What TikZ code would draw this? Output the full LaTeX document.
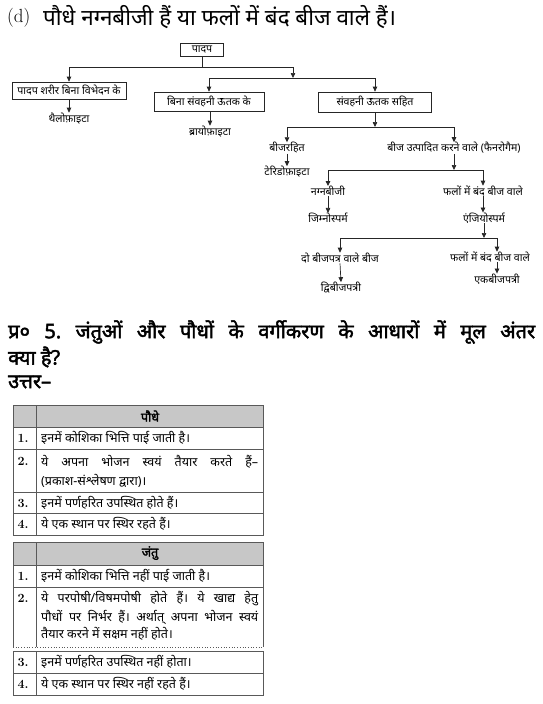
\documentclass[tikz,border=0pt]{standalone}
\usepackage{fontspec}
\newfontfamily\dev[Script=Devanagari]{Noto Sans}
\newfontfamily\devb[Script=Devanagari, FakeBold=2.2]{Noto Sans}
\usetikzlibrary{arrows.meta}
\begin{document}
\frenchspacing
\begin{tikzpicture}[x=1pt,y=-1pt,
  dg/.style={inner sep=0pt, font=\dev\fontsize{10.6}{12}\selectfont},
  box/.style={dg, draw=black!85, line width=0.7pt},
  conn/.style={draw=black!85, line width=0.7pt},
  arr/.style={conn, -{Triangle[length=5pt,width=4.5pt]}},
  tline/.style={draw=black!65, line width=0.7pt},
  ttext/.style={inner sep=0pt, anchor=west, font=\dev\fontsize{12.5}{14}\selectfont},
  tnum/.style={inner sep=0pt, font=\bfseries\fontsize{12.5}{14}\selectfont},
  thead/.style={inner sep=0pt, font=\devb\fontsize{12.5}{14}\selectfont},
  qtext/.style={inner sep=0pt, anchor=west, font=\devb\fontsize{20}{22}\selectfont}
]
\useasboundingbox (0,0) rectangle (543,704);
% title
\node[inner sep=0pt, anchor=west, font=\fontsize{19}{21}\selectfont] (dl) at (7,18) {(d)};
\node[inner sep=0pt, anchor=west, font=\dev\fontsize{22.4}{24}\selectfont] (title) at (43,17) {पौधे नग्नबीजी हैं या फलों में बंद बीज वाले हैं।};

% diagram
\node[box, minimum width=43pt, minimum height=13pt] (padap) at (202,49.5) {पादप};
\node[box, minimum width=114pt, minimum height=17pt] (sharir) at (69,90.5) {पादप शरीर बिना विभेदन के};
\node[box, minimum width=110pt, minimum height=19pt] (bina) at (209,101.5) {बिना संवहनी ऊतक के};
\node[box, minimum width=113pt, minimum height=20pt] (sahit) at (375,102) {संवहनी ऊतक सहित};
\node[dg] (thallo) at (69,118.5) {थैलोफ़ाइटा};
\node[dg] (bryo) at (210,131.5) {ब्रायोफ़ाइटा};
\node[dg] (beejrahit) at (287,148) {बीजरहित};
\node[dg] (terido) at (287,172) {टेरिडोफ़ाइटा};
\node[dg] (beej) at (454,148) {बीज उत्पादित करने वाले (फैनरोगैम)};
\node[dg] (nagna) at (328,191) {नग्नबीजी};
\node[dg] (phal1) at (483,191) {फलों में बंद बीज वाले};
\node[dg] (jimno) at (328,218) {जिम्नोस्पर्म};
\node[dg] (anjio) at (484,218) {एंजियोस्पर्म};
\node[dg] (do) at (340,258) {दो बीजपत्र वाले बीज};
\node[dg] (phal2) at (490,257) {फलों में बंद बीज वाले};
\node[dg] (dvi) at (341,288) {द्विबीजपत्री};
\node[dg] (ek) at (497,279) {एकबीजपत्री};

\coordinate (h1) at (0,67);
\coordinate (j2) at (293,78);
\coordinate (h3) at (0,127);
\coordinate (h4) at (0,170);
\coordinate (h5) at (0,238);

\draw[conn] (padap.south) -- (padap.south |- h1);
\draw[arr] (padap.south |- h1) -| (sharir.north);
\draw[arr] (padap.south |- h1) -| (j2);
\draw[arr] (j2) -| (bina.north);
\draw[arr] (j2) -| (sahit.north);
\draw[arr] (sharir.south) -- (thallo.north);
\draw[arr] (bina.south -| bryo) -- (bryo.north);
\draw[arr] (sahit.south) -- (sahit.south |- h3);
\draw[conn] (beejrahit |- h3) -- (beej |- h3);
\draw[arr] (beejrahit |- h3) -- (beejrahit.north);
\draw[arr] (beej |- h3) -- (beej.north);
\draw[arr] (beejrahit.south) -- (terido.north);
\draw[arr] (beej.south) -- (beej |- h4);
\draw[conn] (nagna |- h4) -- (phal1 |- h4);
\draw[arr] (nagna |- h4) -- (nagna.north);
\draw[arr] (phal1 |- h4) -- (phal1.north);
\draw[arr] (nagna.south) -- (jimno.north);
\draw[arr] (phal1.south) -- (phal1.south |- anjio.north);
\draw[arr] (anjio.south) -- (anjio.south |- h5);
\draw[conn] (do |- h5) -- (ek |- h5);
\draw[arr] (do |- h5) -- (do.north);
\draw[arr] (ek |- h5) -- (ek |- phal2.north);
\draw[arr] (do.south) -- (dvi.north);
\draw[arr] (ek |- phal2.south) -- (ek.north);

% question
\node[qtext] (q1) at (8,332) {\makebox[527pt][s]{प्र० 5. जंतुओं और पौधों के वर्गीकरण के आधारों में मूल अंतर}};
\node[qtext] (q2) at (8,357) {क्या है?};
\node[qtext] (q3) at (8,382) {उत्तर–};

% table 1
\fill[black!22] (13,405) rectangle (263,427);
\draw[tline] (13,405) rectangle (263,535);
\draw[tline] (36,405) -- (36,535);
\foreach \yy in {427,449,492,513} \draw[tline] (13,\yy) -- (263,\yy);
\node[thead] (h1t) at (150,416) {पौधे};
\node[tnum] (n11) at (23,438) {1.};
\node[ttext] (r11) at (41,438) {इनमें कोशिका भित्ति पाई जाती है।};
\node[tnum] (n12) at (23,461) {2.};
\node[ttext] (r12) at (41,462) {\makebox[217pt][s]{ये अपना भोजन स्वयं तैयार करते हैं–}};
\node[ttext] (r12b) at (41,481) {(प्रकाश-संश्लेषण द्वारा)।};
\node[tnum] (n13) at (23,503) {3.};
\node[ttext] (r13) at (41,503) {इनमें पर्णहरित उपस्थित होते हैं।};
\node[tnum] (n14) at (23,524) {4.};
\node[ttext] (r14) at (41,524) {ये एक स्थान पर स्थिर रहते हैं।};

% table 2
\fill[black!22] (13,542) rectangle (263,565);
\draw[tline] (13,647) -- (13,542) -- (263,542) -- (263,647);
\draw[tline, dotted] (13,647) -- (263,647);
\draw[tline] (13,651) rectangle (263,695);
\draw[tline] (36,542) -- (36,647);
\draw[tline] (36,651) -- (36,695);
\foreach \yy in {565,587,673} \draw[tline] (13,\yy) -- (263,\yy);
\node[thead] (h2t) at (150,553) {जंतु};
\node[tnum] (n21) at (23,576) {1.};
\node[ttext] (r21) at (41,576) {इनमें कोशिका भित्ति नहीं पाई जाती है।};
\node[tnum] (n22) at (23,598) {2.};
\node[ttext] (r22) at (41,599) {\makebox[217pt][s]{ये परपोषी/विषमपोषी होते हैं। ये खाद्य हेतु}};
\node[ttext] (r22b) at (41,617) {\makebox[217pt][s]{पौधों पर निर्भर हैं। अर्थात् अपना भोजन स्वयं}};
\node[ttext] (r22c) at (41,634) {तैयार करने में सक्षम नहीं होते।};
\node[tnum] (n23) at (23,662) {3.};
\node[ttext] (r23) at (41,662) {इनमें पर्णहरित उपस्थित नहीं होता।};
\node[tnum] (n24) at (23,684) {4.};
\node[ttext] (r24) at (41,684) {ये एक स्थान पर स्थिर नहीं रहते हैं।};
\end{tikzpicture}
\end{document}
